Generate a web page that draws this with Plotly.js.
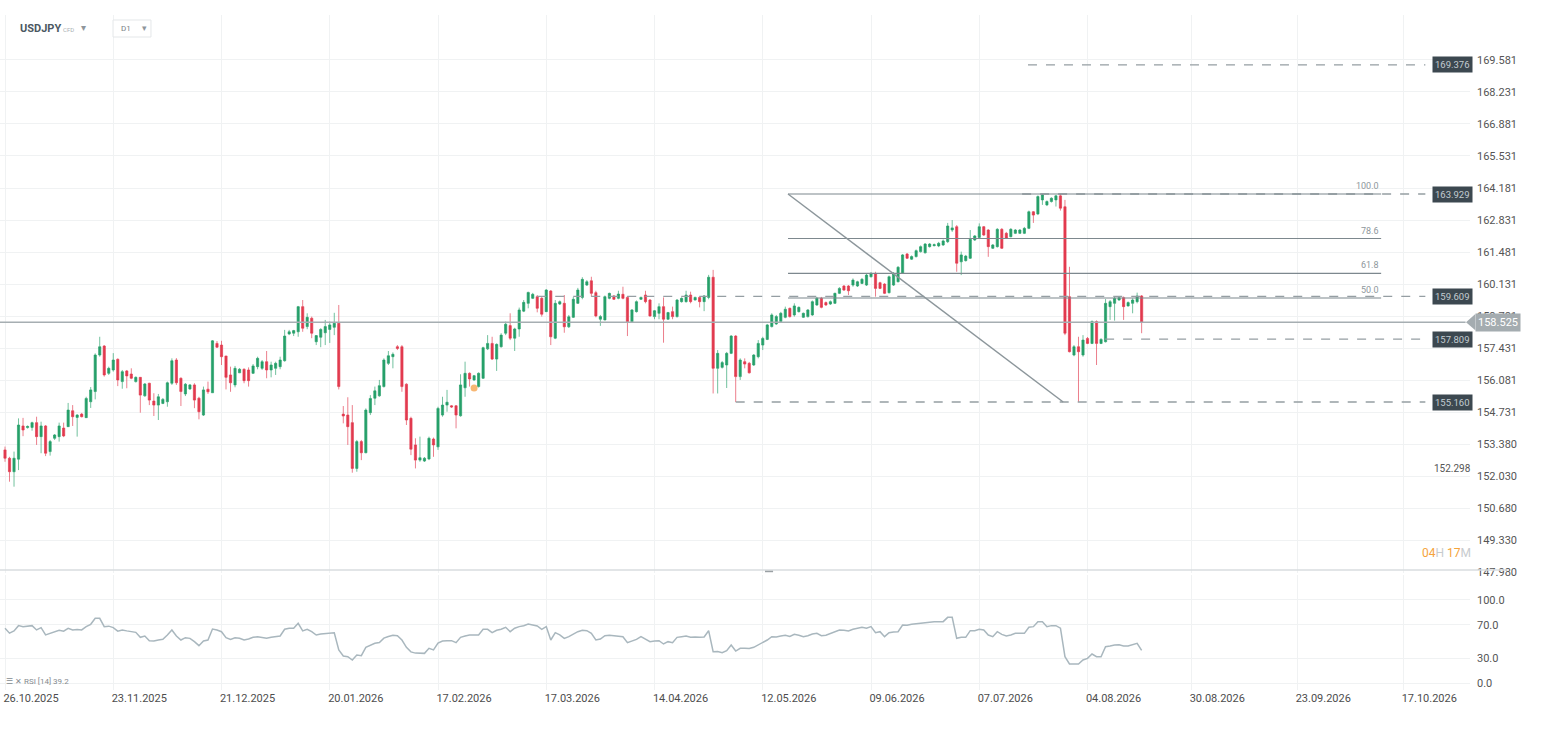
<!DOCTYPE html>
<html><head><meta charset="utf-8">
<script src="https://cdn.plot.ly/plotly-3.0.1.min.js"></script>
<style>html,body{margin:0;padding:0;background:#fff;} #chart{width:1550px;height:753px;}</style>
</head><body><div id="chart"></div>
<script>
// ---- USDJPY daily candles (bar index 0 = 26.10.2025) ----
const openP = [
153.14,152.79,152.22,152.75,154.15,154.08,154.09,154.29,153.70,154.15,
153.07,153.63,153.70,154.06,154.12,154.79,154.51,154.65,154.50,155.17,
155.60,157.14,157.52,156.37,156.51,156.96,156.02,156.47,156.34,156.02,
156.20,155.42,155.95,155.20,155.03,155.10,155.17,155.95,156.93,156.16,
155.50,155.71,155.88,155.32,154.61,155.70,155.55,157.63,157.56,157.10,
156.30,155.88,156.39,156.54,156.51,156.37,156.65,156.58,156.86,156.51,
156.58,156.65,156.90,158.03,158.06,158.12,159.18,158.34,158.69,157.70,
157.89,158.08,158.22,158.31,158.48,154.65,154.61,154.29,152.36,153.49,
153.02,154.71,155.32,155.42,155.81,156.79,157.07,157.49,157.49,155.91,
154.47,153.35,152.71,152.67,152.76,153.60,153.27,154.61,155.03,155.00,
155.00,154.58,155.76,156.37,156.09,155.81,156.16,157.40,157.63,156.97,
157.49,158.06,158.38,157.85,158.24,158.99,159.32,159.53,159.60,159.53,
158.97,159.84,157.85,159.29,159.32,158.33,158.73,159.32,159.57,160.09,
160.27,159.77,158.65,158.62,159.53,159.63,159.53,159.70,159.57,158.54,
158.97,159.49,159.67,159.46,158.76,158.90,159.18,158.65,158.97,158.76,
159.39,159.39,159.67,159.46,159.57,159.39,159.57,160.42,156.58,156.62,
156.72,157.21,157.94,156.23,156.86,156.79,156.72,157.07,157.56,157.80,
158.34,158.45,158.55,158.73,159.11,158.83,158.97,158.73,158.76,158.83,
159.25,159.53,159.35,159.29,159.32,159.74,160.05,160.05,160.09,160.05,
160.16,160.09,160.44,160.58,160.19,160.13,159.77,160.09,160.23,160.58,
161.40,161.18,161.29,161.50,161.45,161.71,161.75,161.74,161.78,161.92,
162.41,162.55,161.07,161.12,161.22,161.99,162.10,162.55,162.41,161.64,
161.71,162.44,162.27,162.13,162.27,162.27,162.27,162.48,163.18,163.09,
163.68,163.47,163.61,163.68,163.85,163.39,159.60,157.14,157.49,157.14,
157.84,157.63,158.55,157.63,157.70,159.18,159.32,159.46,159.56,159.21,
159.32,159.39,159.63];
const highP = [
153.28,152.85,153.07,154.47,154.49,154.17,154.33,154.54,154.33,154.19,
153.56,153.81,154.29,154.29,155.12,155.03,154.65,154.70,155.38,155.79,
157.21,157.91,157.56,156.65,157.22,157.00,156.51,156.51,156.58,156.24,
156.21,155.96,155.97,155.53,155.50,155.33,156.02,157.00,157.01,156.20,
155.96,155.92,155.95,155.38,155.81,156.02,157.77,157.73,157.74,157.10,
156.65,156.68,156.59,156.58,156.62,156.76,157.07,156.93,157.31,156.86,
156.86,157.07,158.20,158.20,158.20,159.21,159.46,158.90,158.76,157.98,
158.27,158.62,158.55,158.92,159.25,154.99,155.36,155.03,153.56,153.56,
154.89,155.45,155.81,156.09,157.00,157.31,157.25,157.56,157.56,155.95,
154.54,153.63,153.70,152.84,153.70,153.66,154.96,155.38,155.67,155.03,
155.03,156.33,156.86,156.41,156.30,156.41,157.49,157.98,157.91,157.63,
158.06,158.55,158.90,158.29,159.14,159.46,159.81,159.76,159.67,159.60,
159.92,159.88,159.46,159.44,159.67,158.83,159.59,159.97,160.42,160.30,
160.44,159.85,158.83,159.65,159.77,159.67,159.85,160.02,159.63,159.08,
159.44,159.60,159.85,159.50,159.04,159.32,159.57,158.96,159.18,159.50,
159.57,159.85,159.81,159.60,159.60,159.67,160.52,160.73,157.35,156.89,
157.27,157.98,157.98,157.00,157.00,156.85,157.18,157.77,157.91,158.45,
158.90,158.83,158.96,159.18,159.14,159.32,159.19,158.93,159.08,159.44,
159.59,159.59,159.40,159.44,159.77,160.00,160.09,160.09,160.37,160.27,
160.39,160.56,160.64,160.65,160.23,160.17,160.49,160.64,160.89,161.40,
161.44,161.34,161.59,161.76,161.86,161.86,161.84,161.91,162.01,162.71,
162.83,162.62,161.50,161.36,162.41,162.20,162.69,162.58,162.45,161.82,
162.49,162.49,162.33,162.49,162.45,162.45,162.54,163.23,163.21,163.87,
163.93,163.66,163.79,163.89,163.93,163.68,160.86,157.56,157.91,157.98,
157.90,158.60,158.60,157.85,159.50,159.46,159.60,159.61,159.61,159.40,
159.53,159.77,159.67];
const lowP = [
152.64,151.80,151.59,152.29,153.72,154.04,153.95,153.35,153.00,152.88,
152.90,153.56,153.49,153.68,154.11,154.15,153.70,154.51,154.49,154.91,
155.27,157.07,156.23,156.30,156.44,155.83,155.72,155.74,156.12,155.98,
154.71,155.38,155.03,154.57,154.40,155.07,154.96,155.88,155.88,154.99,
155.41,155.67,154.90,154.43,154.57,155.50,155.54,157.44,156.72,155.69,
155.59,155.78,156.38,155.95,155.81,156.34,156.54,156.51,156.16,156.20,
156.30,156.54,156.86,157.98,157.94,157.91,158.12,158.23,157.85,157.56,
157.47,157.56,157.65,157.98,155.69,154.26,153.35,152.18,152.22,152.71,
153.00,154.61,155.03,155.38,155.77,156.72,156.58,157.35,155.59,154.19,
152.92,152.36,152.64,152.63,152.71,152.85,153.14,154.54,154.75,154.91,
154.05,154.54,155.38,155.81,156.05,155.77,156.13,157.35,156.93,156.47,
157.45,157.98,157.77,157.31,157.91,158.95,159.11,159.50,158.94,158.76,
158.95,157.56,157.81,159.25,158.08,158.28,158.70,159.29,159.49,160.05,
159.60,158.73,158.37,158.60,159.49,159.46,159.49,159.49,157.94,158.51,
158.93,159.46,159.32,158.75,158.65,158.65,157.66,158.62,158.65,158.72,
159.35,159.35,159.32,159.44,159.15,158.99,159.49,155.52,155.52,156.57,
155.75,157.18,155.16,156.09,156.58,156.36,156.68,157.00,157.35,157.77,
158.30,158.41,158.52,158.69,158.72,158.76,158.93,158.70,158.72,158.79,
159.21,159.11,159.21,159.25,159.29,159.71,159.84,159.67,160.02,160.01,
160.13,160.05,160.41,159.60,159.92,159.71,159.73,160.05,160.20,160.56,
161.19,161.15,161.25,161.46,161.42,161.67,161.72,161.69,161.74,161.86,
162.33,160.65,160.51,161.08,161.19,161.95,162.07,162.16,161.28,161.61,
161.67,161.61,162.03,162.10,162.24,162.24,162.24,162.45,162.71,163.04,
163.47,163.42,163.57,163.40,163.23,157.98,157.25,157.09,155.16,157.07,
157.60,157.60,156.72,157.60,157.67,158.62,158.59,159.43,158.62,159.18,
158.90,159.32,158.06];
const closeP = [
152.79,152.22,152.79,154.19,153.98,154.13,154.29,153.70,154.15,153.00,
153.49,153.77,154.15,153.73,154.82,154.54,154.61,154.54,155.31,155.67,
157.14,157.49,156.30,156.58,156.93,156.09,156.44,156.26,156.16,156.20,
155.45,155.92,155.24,155.03,155.38,155.27,155.97,156.90,155.97,155.60,
155.91,155.88,155.24,154.75,155.67,155.59,157.74,157.47,157.07,156.20,
155.97,156.58,156.54,156.06,156.06,156.68,157.00,156.86,156.51,156.72,
156.79,156.93,157.94,158.12,158.17,159.18,158.27,158.73,158.06,157.96,
158.22,158.34,158.41,158.48,155.81,154.57,154.12,152.36,153.49,153.02,
154.82,155.31,155.63,155.85,156.93,157.11,157.17,157.42,155.81,154.40,
153.17,152.71,152.81,152.79,153.63,153.35,154.89,155.03,155.15,154.95,
154.61,155.88,156.37,156.13,156.27,156.37,157.45,157.63,156.97,157.59,
157.98,158.44,157.85,158.24,159.04,159.36,159.78,159.70,159.11,158.86,
159.88,157.91,159.32,159.39,158.33,158.75,159.49,159.88,160.33,160.23,
159.74,158.79,158.76,159.60,159.74,159.49,159.71,159.53,158.54,159.04,
159.39,159.57,159.39,158.79,159.01,159.18,158.65,158.93,158.76,159.46,
159.53,159.67,159.39,159.57,159.39,159.63,160.42,156.58,157.21,156.82,
157.21,157.94,156.23,156.93,156.76,156.39,157.14,157.63,157.84,158.41,
158.83,158.76,158.90,159.07,158.76,159.21,159.15,158.90,159.04,159.39,
159.53,159.15,159.25,159.39,159.74,159.95,159.88,159.85,160.30,160.23,
160.33,160.51,160.58,159.95,159.95,159.74,160.44,160.58,160.84,161.36,
161.22,161.29,161.54,161.71,161.82,161.82,161.79,161.85,161.95,162.58,
162.50,161.01,161.36,161.31,162.02,162.16,162.55,162.20,161.71,161.78,
162.44,161.64,162.06,162.44,162.41,162.41,162.48,163.18,163.04,163.82,
163.89,163.61,163.75,163.85,163.33,158.06,157.28,157.49,157.28,157.77,
157.63,158.55,157.63,157.80,159.32,159.39,159.53,159.56,159.18,159.35,
159.46,159.63,158.525];
// RSI(14)
const rsiValues = [
65.9,60.0,62.7,69.1,67.9,68.7,69.1,63.9,66.7,57.9,
59.9,61.8,63.5,62.5,65.9,63.9,64.5,63.9,67.9,70.7,
77.9,77.9,67.9,68.5,66.7,62.5,63.9,62.8,61.8,61.0,
55.0,56.6,51.0,50.6,51.8,52.6,57.8,63.9,56.6,51.8,
54.6,53.8,49.8,45.0,50.6,51.8,65.0,63.9,61.8,54.6,
52.6,54.6,53.8,51.8,53.0,55.0,55.8,55.2,53.8,55.0,
55.4,56.6,64.7,65.9,65.9,71.9,62.7,64.7,61.8,57.8,
59.0,59.5,60.2,60.6,39.8,32.5,31.7,27.7,33.7,32.9,
43.0,45.8,47.8,48.8,54.0,56.0,57.5,57.0,51.8,43.0,
37.5,36.0,35.7,35.7,41.8,39.8,48.0,50.6,51.0,51.0,
48.6,55.0,56.5,57.8,57.8,57.8,64.7,64.7,60.6,63.5,
64.7,67.1,61.8,66.0,67.9,69.0,71.1,69.5,68.7,64.7,
67.9,51.8,60.6,58.0,53.8,55.8,59.0,61.8,63.5,63.0,
59.8,51.8,53.0,57.0,57.5,57.0,57.0,55.8,48.6,50.5,
52.6,55.8,53.0,49.8,50.5,51.0,47.0,49.8,48.6,55.0,
55.8,56.6,55.0,55.5,55.0,55.5,63.0,37.7,38.0,36.5,
38.9,45.8,38.5,41.8,42.0,41.5,43.0,45.8,48.0,51.8,
55.8,55.5,56.6,57.5,56.0,58.6,57.5,55.8,57.0,59.0,
59.8,57.0,57.5,59.8,61.8,63.9,63.5,62.8,64.7,65.9,
67.1,66.0,67.9,60.6,61.8,55.8,60.6,61.5,61.8,69.9,
69.5,70.7,71.5,71.9,73.1,73.5,73.9,73.9,73.9,79.1,
79.1,53.8,55.0,55.0,63.0,63.0,64.7,63.9,57.8,55.8,
61.8,58.6,56.6,57.8,59.8,59.8,59.8,67.1,67.9,73.9,
73.9,67.9,69.1,69.1,66.0,31.7,22.9,23.0,22.9,27.7,
29.7,34.9,31.7,31.7,43.8,44.6,45.8,46.0,44.6,44.6,
46.5,47.8,39.2];

// axis tick labels
const dateTickBars = [0,24,48,72,96,120,144,168,192,216,240,263,286.5,310];
const dateTickLabels = ["26.10.2025","23.11.2025","21.12.2025","20.01.2026","17.02.2026","17.03.2026","14.04.2026","12.05.2026","09.06.2026","07.07.2026","04.08.2026","30.08.2026","23.09.2026","17.10.2026"];
const priceTickLabels = ["147.980","149.330","150.680","152.030","153.380","154.731","156.081","157.431","158.781","160.131","161.481","162.831","164.181","165.531","166.881","168.231","169.581"];
const rsiTickLabels = ["0.0","30.0","70.0","100.0"];

// horizontal levels drawn on the chart
const levelPrices = [169.376, 163.929, 159.609, 157.809, 155.160];
const levelLabels = ["169.376","163.929","159.609","157.809","155.160"];
const fibPercents = [100, 78.6, 61.8, 50];
const fibLabels = ["100.0","78.6","61.8","50.0"];
const fibLow = 155.160, fibHigh = 163.929;
const lastPrice = 158.525;
const lastRsi = 39.2;
const extraLabelPrice = 152.298;
const markerBar = 104, markerPrice = 155.75;

// ---- layout config (positions in bar units) ----
const levelStartBar = [226.8, 225.5, 118, 243.9, 162];
const levelEndBar = 314.9;
const labelBar = 316.4;
const fibStartBar = 173.6, fibEndBar = 305.1, fibDiagEndBar = 234.6;

const bars = openP.map((_, i) => i);
const GREEN = '#26a06a', RED = '#e23a4f';

const traces = [
  {type:'candlestick', x:bars, open:openP, high:highP, low:lowP, close:closeP,
   xaxis:'x', yaxis:'y', hoverinfo:'skip', showlegend:false, whiskerwidth:0,
   increasing:{line:{color:'rgba(38,160,106,0.65)', width:1}, fillcolor:GREEN},
   decreasing:{line:{color:'rgba(226,58,79,0.65)', width:1}, fillcolor:RED}},
  {type:'scatter', mode:'markers', x:[markerBar], y:[markerPrice], xaxis:'x', yaxis:'y',
   marker:{color:'rgba(247,170,90,0.85)', size:7}, hoverinfo:'skip', showlegend:false},
  {type:'scatter', mode:'lines', x:bars, y:rsiValues, xaxis:'x2', yaxis:'y2',
   line:{color:'#a9b7be', width:1.5}, hoverinfo:'skip', showlegend:false}
];

const shapes = [];
const annotations = [];
// last price line
shapes.push({type:'line', xref:'paper', yref:'y', x0:0, x1:0.997, y0:lastPrice, y1:lastPrice,
  line:{color:'#a6aeb2', width:1.5}});
// dashed levels
levelPrices.forEach((p,i)=>{
  shapes.push({type:'line', xref:'x', yref:'y', x0:levelStartBar[i], x1:levelEndBar, y0:p, y1:p,
    line:{color:'#959ea3', width:1.3, dash:'dash'}});
  annotations.push({xref:'x', yref:'y', x:labelBar, y:p, xanchor:'left', yanchor:'middle',
    text:levelLabels[i], showarrow:false, bgcolor:'#3c4850', borderpad:2,
    font:{size:9.5, color:'#c3ccd1', family:'Roboto, Arial, sans-serif'}});
});
// fibonacci
fibPercents.forEach((f,i)=>{
  const p = fibLow + f/100*(fibHigh-fibLow);
  shapes.push({type:'line', xref:'x', yref:'y', x0:fibStartBar, x1:fibEndBar, y0:p, y1:p,
    line:{color:'#7d888e', width:1.2}});
  annotations.push({xref:'x', yref:'y', x:fibEndBar, y:p, xanchor:'right', yanchor:'bottom', yshift:1,
    text:fibLabels[i], showarrow:false, font:{size:9, color:'#8e979c'}});
});
shapes.push({type:'line', xref:'x', yref:'y', x0:fibStartBar, y0:fibHigh, x1:fibDiagEndBar, y1:fibLow,
  line:{color:'#8c969b', width:1.5}});
// last price tag
shapes.push({type:'path', xref:'paper', yref:'y', path:`M 0.9973,${lastPrice} L 1.0036,${lastPrice+0.34} L 1.0036,${lastPrice-0.34} Z`,
  fillcolor:'#a4acb0', line:{width:0}});
annotations.push({xref:'paper', yref:'y', x:1.0034, y:lastPrice, xanchor:'left', yanchor:'middle',
  text:lastPrice.toFixed(3), showarrow:false, bgcolor:'#a4acb0', borderpad:2,
  font:{size:11, color:'#ffffff'}});
annotations.push({xref:'x', yref:'y', x:labelBar, y:extraLabelPrice+0.07, xanchor:'left', yanchor:'middle',
  text:extraLabelPrice.toFixed(3), showarrow:false, font:{size:10, color:'#555'}});
// panel separator
shapes.push({type:'line', xref:'paper', yref:'paper', x0:0, x1:1.0252, y0:0.17778, y1:0.17778,
  line:{color:'#d8dcdf', width:1.5}});
shapes.push({type:'line', xref:'paper', yref:'paper', x0:0.5204, x1:0.5259, y0:0.1756, y1:0.1756,
  line:{color:'#9aa0a4', width:1.5}});
// header
shapes.push({type:'rect', xref:'paper', yref:'paper', x0:0.0769, x1:0.1027, y0:0.9674, y1:0.9926,
  line:{color:'#e4e7e9', width:1}, fillcolor:'#ffffff'});
annotations.push({xref:'paper', yref:'paper', x:0.0122, y:0.9793, xanchor:'left', yanchor:'middle',
  text:'<b>USDJPY</b>', showarrow:false, font:{size:11, color:'#4b5862'}});
annotations.push({xref:'paper', yref:'paper', x:0.0415, y:0.9778, xanchor:'left', yanchor:'middle',
  text:'CFD', showarrow:false, font:{size:6, color:'#aab0b4'}});
annotations.push({xref:'paper', yref:'paper', x:0.0535, y:0.9810, xanchor:'left', yanchor:'middle',
  text:'▾', showarrow:false, font:{size:10, color:'#8f969b'}});
annotations.push({xref:'paper', yref:'paper', x:0.0810, y:0.9793, xanchor:'left', yanchor:'middle',
  text:'D1', showarrow:false, font:{size:8, color:'#7a8186'}});
annotations.push({xref:'paper', yref:'paper', x:0.0955, y:0.9805, xanchor:'left', yanchor:'middle',
  text:'▾', showarrow:false, font:{size:9, color:'#8f969b'}});
// countdown
annotations.push({xref:'paper', yref:'paper', x:0.9660, y:0.2030, xanchor:'left', yanchor:'middle',
  text:'<span style="color:#f5a33a">04</span><span style="color:#c7cbce">H </span><span style="color:#f5a33a">17</span><span style="color:#c7cbce">M</span>',
  showarrow:false, font:{size:12}});
// RSI legend
annotations.push({xref:'paper', yref:'paper', x:0.0030, y:0.0125, xanchor:'left', yanchor:'middle',
  text:'☰ ✕ RSI [14] ' + lastRsi.toFixed(1), showarrow:false, font:{size:8, color:'#858b8f'}});

const gridC = '#f0f2f3';
const layout = {
  width:1550, height:753, paper_bgcolor:'#ffffff', plot_bgcolor:'#ffffff',
  margin:{l:0, r:80, t:15, b:63},
  font:{family:'Roboto, Arial, sans-serif', color:'#555'},
  showlegend:false,
  xaxis:{domain:[0,1], anchor:'y', range:[-1.109, 324.8], rangeslider:{visible:false},
    tickmode:'array', tickvals:dateTickBars, ticktext:dateTickLabels, showticklabels:false,
    showgrid:true, gridcolor:gridC, zeroline:false, showline:false, ticks:''},
  xaxis2:{domain:[0,1], anchor:'y2', matches:'x', range:[-1.109, 324.8],
    tickmode:'array', tickvals:dateTickBars, ticktext:dateTickLabels, showticklabels:true,
    ticklabelshift:26, tickfont:{size:11, color:'#4d4d4d'},
    showgrid:true, gridcolor:gridC, zeroline:false, showline:false, ticks:''},
  yaxis:{domain:[0.17333,1], anchor:'x', side:'right', range:[147.951, 171.475],
    tickmode:'array', tickvals:priceTickLabels.map(Number), ticktext:priceTickLabels,
    tickfont:{size:11, color:'#555'}, ticklabelstandoff:6,
    showgrid:true, gridcolor:gridC, zeroline:false, showline:false, ticks:''},
  yaxis2:{domain:[0,0.17037], anchor:'x2', side:'right', range:[-8.43, 130.1],
    tickmode:'array', tickvals:rsiTickLabels.map(Number), ticktext:rsiTickLabels,
    tickfont:{size:11, color:'#555'}, ticklabelstandoff:6,
    showgrid:true, gridcolor:gridC, zeroline:false, showline:false, ticks:''},
  shapes:shapes, annotations:annotations
};
Plotly.newPlot('chart', traces, layout, {displayModeBar:false, staticPlot:true});
</script>
</body></html>
